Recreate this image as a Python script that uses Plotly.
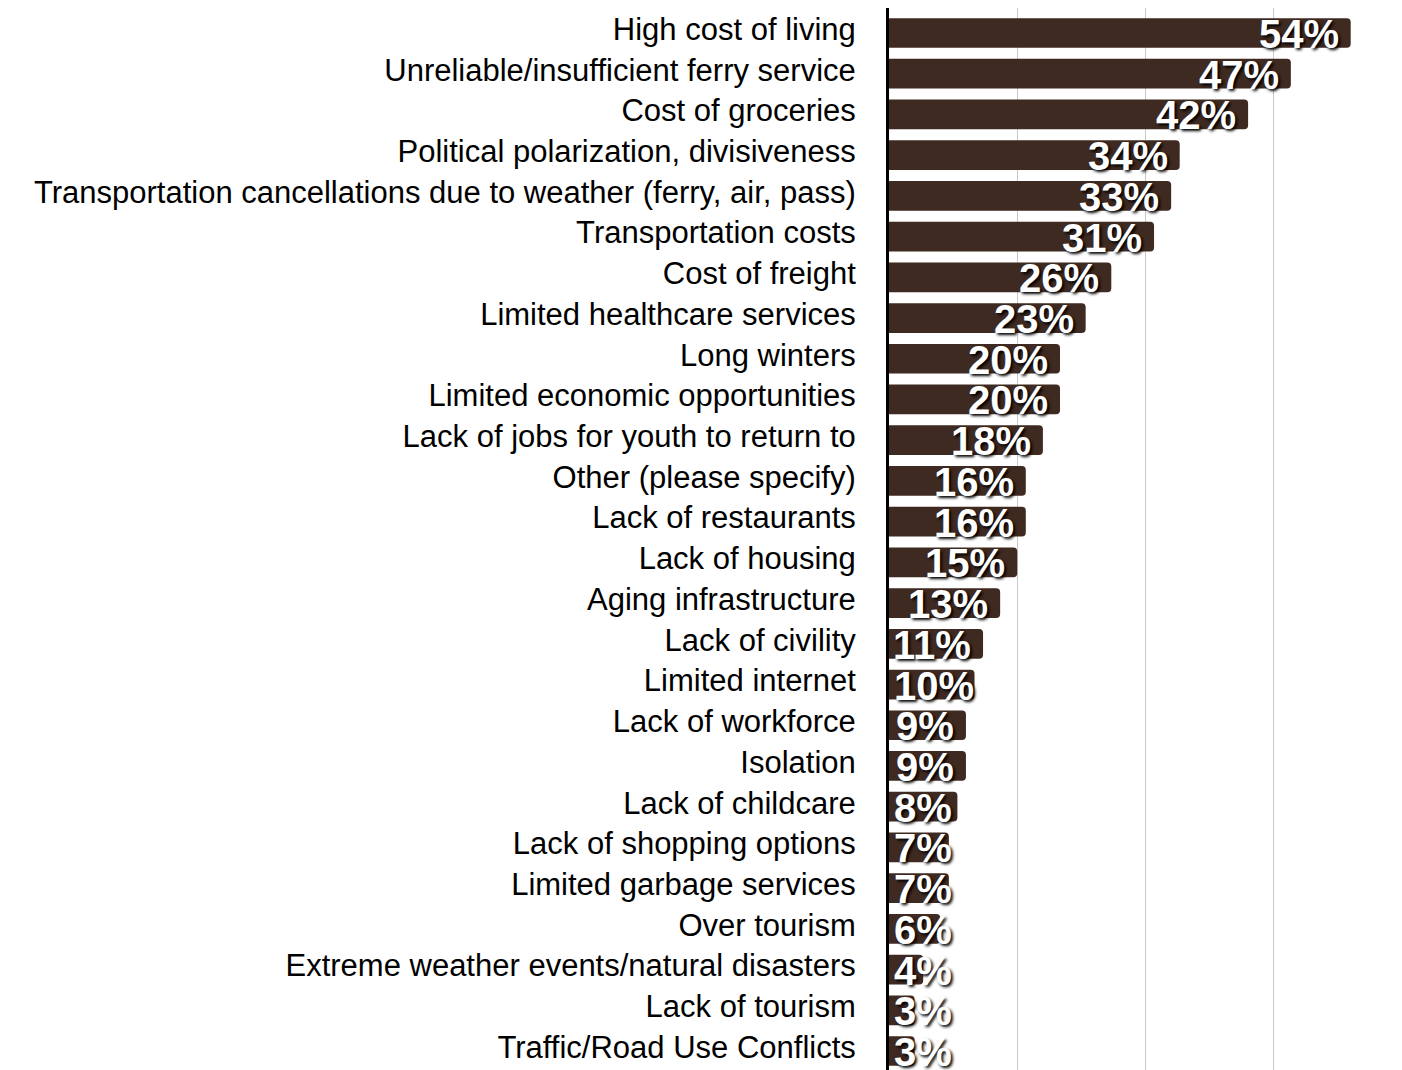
import plotly.graph_objects as go

categories = [
    "High cost of living",
    "Unreliable/insufficient ferry service",
    "Cost of groceries",
    "Political polarization, divisiveness",
    "Transportation cancellations due to weather (ferry, air, pass)",
    "Transportation costs",
    "Cost of freight",
    "Limited healthcare services",
    "Long winters",
    "Limited economic opportunities",
    "Lack of jobs for youth to return to",
    "Other (please specify)",
    "Lack of restaurants",
    "Lack of housing",
    "Aging infrastructure",
    "Lack of civility",
    "Limited internet",
    "Lack of workforce",
    "Isolation",
    "Lack of childcare",
    "Lack of shopping options",
    "Limited garbage services",
    "Over tourism",
    "Extreme weather events/natural disasters",
    "Lack of tourism",
    "Traffic/Road Use Conflicts",
]
values = [54, 47, 42, 34, 33, 31, 26, 23, 20, 20, 18, 16, 16, 15, 13, 11, 10, 9, 9, 8, 7, 7, 6, 4, 3, 3]
labels = [f"{v}%" for v in values]

BAR_COLOR = "#3f2a21"
X_MAX = 60
# the page body adds an 8px offset; figure coordinates below account for it
FIG_W, FIG_H = 1394, 1070
M_LEFT, M_RIGHT, M_TOP, M_BOTTOM = 881, 0, 0, 4
PX_PER_UNIT = (FIG_W - M_LEFT - M_RIGHT) / X_MAX
LABEL_SIZE = 40

fig = go.Figure(
    go.Bar(
        x=values,
        y=categories,
        orientation="h",
        marker=dict(color=BAR_COLOR, cornerradius=4, line=dict(width=0)),
        hoverinfo="skip",
    )
)

annotations = []
for cat, v, lab in zip(categories, values, labels):
    # approximate rendered width of bold label text
    tw = sum(0.889 if ch == "%" else 0.556 for ch in lab) * LABEL_SIZE
    fits = v * PX_PER_UNIT >= tw + 14
    annotations.append(
        dict(
            x=v if fits else 0,
            y=cat,
            xref="x",
            yref="y",
            text=lab,
            showarrow=False,
            xanchor="right" if fits else "left",
            xshift=-10 if fits else 3,
            yshift=-1,
            font=dict(
                family="Liberation Sans, Arial, sans-serif",
                size=LABEL_SIZE,
                color="white",
                weight="bold",
                shadow="2px 2px 3px #000000",
            ),
        )
    )

fig.update_layout(
    width=FIG_W,
    height=FIG_H,
    margin=dict(l=M_LEFT, r=M_RIGHT, t=M_TOP, b=M_BOTTOM, autoexpand=False),
    paper_bgcolor="white",
    plot_bgcolor="white",
    bargap=0.27,
    showlegend=False,
    annotations=annotations,
    font=dict(family="Liberation Sans, Arial, sans-serif", color="#000000"),
    xaxis=dict(
        range=[0, X_MAX],
        dtick=15,
        showgrid=True,
        gridcolor="#c8c8c8",
        gridwidth=1,
        showticklabels=False,
        zeroline=False,
        showline=False,
        fixedrange=True,
        automargin=False,
    ),
    yaxis=dict(
        autorange="reversed",
        showline=True,
        linecolor="#000000",
        linewidth=3,
        ticks="outside",
        ticklen=24,
        tickcolor="rgba(0,0,0,0)",
        tickfont=dict(size=31, color="#000000"),
        ticklabelshift=4,
        showgrid=False,
        fixedrange=True,
        automargin=False,
    ),
)

fig.write_html("out.html")
